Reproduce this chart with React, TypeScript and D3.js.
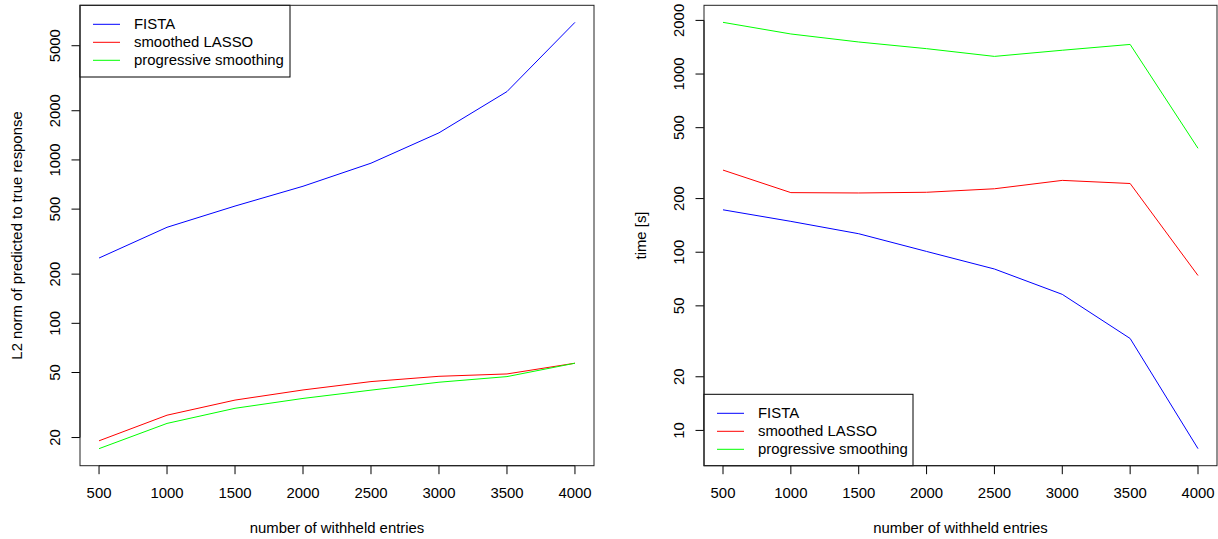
import * as d3 from 'd3';

const withheld = [500, 1000, 1500, 2000, 2500, 3000, 3500, 4000];
const seriesNames = ['FISTA', 'smoothed LASSO', 'progressive smoothing'];
const seriesColors = ['#0000ff', '#ff0000', '#00ff00'];

// left: L2 norm of predicted to true response
const errFista = [251, 387, 522, 690, 955, 1465, 2620, 6950];
const errSmoothed = [19.1, 27.4, 33.9, 39.1, 44.0, 47.4, 49.0, 57.0];
const errProgressive = [17.1, 24.4, 30.2, 34.7, 39.0, 43.6, 47.2, 57.0];

// right: time [s]
const timeFista = [173, 149, 127, 101, 80.5, 58, 32.8, 7.9];
const timeSmoothed = [289, 216, 215, 217, 227, 253, 243, 74];
const timeProgressive = [1950, 1678, 1513, 1388, 1256, 1360, 1466, 383];

const xTicks = [500, 1000, 1500, 2000, 2500, 3000, 3500, 4000];
const errTicks = [20, 50, 100, 200, 500, 1000, 2000, 5000];
const timeTicks = [10, 20, 50, 100, 200, 500, 1000, 2000];

const FONT = '"Liberation Sans", Arial, Helvetica, sans-serif';
const FS = 14.9;

type PanelProps = {
  left: number;
  right: number;
  series: number[][];
  yTicks: number[];
  yTitle: string;
  tickX: number;
  titleX: number;
  legend: { x: number; y: number; w: number; h: number };
};

function Panel({ left, right, series, yTicks, yTitle, tickX, titleX, legend }: PanelProps) {
  const top = 5.3;
  const bottom = 465.7;

  // R style: 4% padding on both axes
  const xExt = d3.extent(withheld) as [number, number];
  const xPad = (xExt[1] - xExt[0]) * 0.04;
  const x = d3.scaleLinear().domain([xExt[0] - xPad, xExt[1] + xPad]).range([left, right]);

  const all = series.flat();
  const lMin = Math.log10(d3.min(all)!);
  const lMax = Math.log10(d3.max(all)!);
  const lPad = (lMax - lMin) * 0.04;
  const y = d3.scaleLog()
    .domain([Math.pow(10, lMin - lPad), Math.pow(10, lMax + lPad)])
    .range([bottom, top]);

  const line = d3.line<number>()
    .x((_, i) => x(withheld[i]))
    .y(d => y(d));

  const tl = 8.5;
  const midY = (top + bottom) / 2;

  return (
    <g fontFamily={FONT} fontSize={FS} fill="#000">
      {series.map((s, i) => (
        <path key={i} d={line(s)!} fill="none" stroke={seriesColors[i]} strokeWidth={1} />
      ))}

      {/* x axis */}
      <line x1={x(xTicks[0])} x2={x(xTicks[xTicks.length - 1])} y1={bottom} y2={bottom} stroke="#000" />
      {xTicks.map(t => (
        <g key={t}>
          <line x1={x(t)} x2={x(t)} y1={bottom} y2={bottom + tl} stroke="#000" />
          <text x={x(t)} y={497.5} textAnchor="middle">{t}</text>
        </g>
      ))}
      <text x={(left + right) / 2} y={533} textAnchor="middle">number of withheld entries</text>

      {/* y axis */}
      <line x1={left} x2={left} y1={y(yTicks[0])} y2={y(yTicks[yTicks.length - 1])} stroke="#000" />
      {yTicks.map(t => (
        <g key={t}>
          <line x1={left - tl} x2={left} y1={y(t)} y2={y(t)} stroke="#000" />
          <text transform={`translate(${tickX},${y(t)}) rotate(-90)`} textAnchor="middle">{t}</text>
        </g>
      ))}
      <text transform={`translate(${titleX},${midY}) rotate(-90)`} textAnchor="middle">{yTitle}</text>

      {/* legend */}
      <rect x={legend.x} y={legend.y} width={legend.w} height={legend.h} fill="#fff" stroke="#000" strokeWidth={1} />
      {seriesNames.map((n, i) => {
        const ry = legend.y + 19 + i * 18;
        return (
          <g key={n}>
            <line x1={legend.x + 13} x2={legend.x + 40} y1={ry} y2={ry} stroke={seriesColors[i]} />
            <text x={legend.x + 54} y={ry + 5}>{n}</text>
          </g>
        );
      })}

      {/* box */}
      <rect x={left} y={top} width={right - left} height={bottom - top} fill="none" stroke="#222" strokeWidth={1} />
    </g>
  );
}

export default function App() {
  return (
    <svg width={1218} height={539} style={{ position: 'absolute', left: 0, top: 0, background: '#fff' }}>
      <rect width={1218} height={539} fill="#fff" />
      <Panel
        left={80}
        right={594}
        series={[errFista, errSmoothed, errProgressive]}
        yTicks={errTicks}
        yTitle="L2 norm of predicted to true response"
        tickX={60}
        titleX={22}
        legend={{ x: 80, y: 5.3, w: 210, h: 71.7 }}
      />
      <Panel
        left={704}
        right={1217}
        series={[timeFista, timeSmoothed, timeProgressive]}
        yTicks={timeTicks}
        yTitle="time [s]"
        tickX={684}
        titleX={646}
        legend={{ x: 704, y: 394.3, w: 209, h: 71.4 }}
      />
    </svg>
  );
}
